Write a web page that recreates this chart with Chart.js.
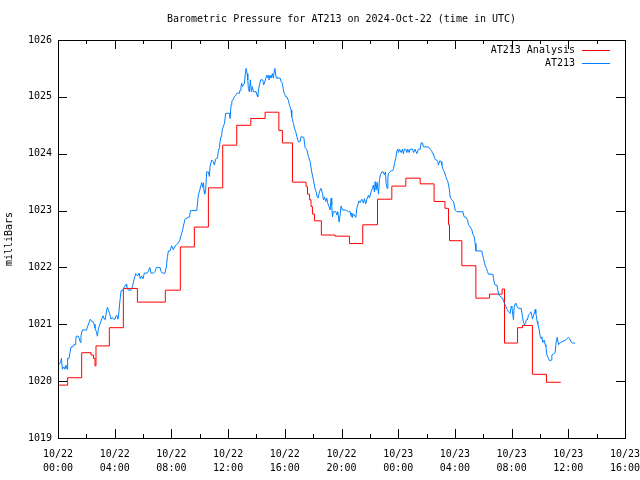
<!DOCTYPE html>
<html>
<head>
<meta charset="utf-8">
<script src="https://cdn.jsdelivr.net/npm/chart.js@4.4.1/dist/chart.umd.min.js"></script>
<style>
  html, body { margin: 0; padding: 0; background: #fff; }
  #wrap { width: 640px; height: 480px; }
</style>
</head>
<body>
<div id="wrap"><canvas id="c" width="640" height="480"></canvas></div>
<script>
// ---- Data (hours since 2024-10-22 00:00 UTC) ----
const chartTitle = 'Barometric Pressure for AT213 on 2024-Oct-22 (time in UTC)';
const yAxisLabel = 'milliBars';
const seriesNames = ['AT213 Analysis', 'AT213'];

const xTickHours = [0, 4, 8, 12, 16, 20, 24, 28, 32, 36, 40];
const xTickDates = ['10/22', '10/22', '10/22', '10/22', '10/22', '10/22', '10/23', '10/23', '10/23', '10/23', '10/23'];
const xTickTimes = ['00:00', '04:00', '08:00', '12:00', '16:00', '20:00', '00:00', '04:00', '08:00', '12:00', '16:00'];
const yTickValues = [1019, 1020, 1021, 1022, 1023, 1024, 1025, 1026];

// Analysis series: value changes at each listed hour (step line)
const analysisHours = [0, 0.68, 1.67, 2.33, 2.50, 2.61, 2.68, 3.62, 4.61, 5.60, 7.57, 8.63, 9.62, 10.61, 11.62, 12.61, 13.60,
  14.61, 15.58, 15.83, 16.54, 17.50, 17.60, 17.75, 17.85, 17.95, 18.09, 18.58, 19.55, 20.56, 21.50, 22.54,
  23.55, 24.54, 25.55, 26.53, 27.30, 27.55, 27.62, 28.49, 29.48, 30.44, 31.33, 31.50, 32.42, 32.77, 33.47, 34.46, 35.47];
const analysisPressure = [1019.93, 1020.06, 1020.50, 1020.46, 1020.40, 1020.27, 1020.62, 1020.94, 1021.63, 1021.39, 1021.60, 1022.36,
  1022.71, 1023.40, 1024.15, 1024.50, 1024.62, 1024.73, 1024.41, 1024.19, 1023.50, 1023.42, 1023.29, 1023.19, 1023.07,
  1022.94, 1022.82, 1022.57, 1022.55, 1022.42, 1022.75, 1023.20, 1023.43, 1023.57, 1023.47, 1023.16, 1023.04, 1022.75,
  1022.47, 1022.03, 1021.46, 1021.53, 1021.62, 1020.67, 1020.94, 1020.98, 1020.12, 1019.98, 1019.98];

// Observed station series
const stationHours = [0.07, 0.19, 0.24, 0.31, 0.42, 0.49, 0.56, 0.64, 0.68, 0.78, 0.85, 0.92, 1.04, 1.11, 1.22, 1.25, 1.29, 1.43,
  1.51, 1.58, 1.62, 1.72, 2.02, 2.07, 2.19, 2.28, 2.38, 2.47, 2.54, 2.61, 2.71, 2.78, 2.85, 2.94, 3.03, 3.08, 3.18, 3.27,
  3.33, 3.39, 3.48, 3.55, 3.65, 3.74, 3.84, 3.93, 4.02, 4.09, 4.16, 4.23, 4.30, 4.38, 4.45, 4.56, 4.68, 4.80, 4.85, 4.96,
  5.15, 5.25, 5.34, 5.48, 5.62, 5.72, 5.81, 5.90, 6.00, 6.09, 6.28, 6.37, 6.47, 6.56, 6.73, 6.85, 6.94, 7.20, 7.27, 7.36,
  7.55, 7.65, 7.72, 7.79, 7.90, 8.02, 8.14, 8.26, 8.37, 8.49, 8.59, 8.75, 8.96, 9.25, 9.30, 9.36, 9.79, 9.83, 9.90, 10.00,
  10.07, 10.14, 10.21, 10.26, 10.30, 10.35, 10.42, 10.49, 10.61, 10.68, 10.73, 10.84, 10.96, 11.03, 11.13, 11.24, 11.31,
  11.39, 11.43, 11.50, 11.55, 11.62, 11.74, 11.83, 12.09, 12.14, 12.21, 12.26, 12.37, 12.44, 12.54, 12.61, 12.73, 12.80,
  12.84, 12.91, 12.96, 13.01, 13.08, 13.15, 13.20, 13.27, 13.34, 13.39, 13.43, 13.50, 13.57, 13.64, 13.71, 13.79, 13.97,
  14.04, 14.09, 14.14, 14.21, 14.30, 14.44, 14.51, 14.61, 14.73, 14.80, 14.84, 14.89, 14.96, 15.03, 15.12, 15.19, 15.27,
  15.31, 15.38, 15.43, 15.67, 15.74, 15.83, 15.90, 15.97, 16.07, 16.14, 16.25, 16.32, 16.44, 16.49, 16.61, 16.68, 16.77,
  16.84, 16.96, 17.08, 17.15, 17.34, 17.43, 17.55, 17.67, 17.79, 17.90, 18.02, 18.14, 18.21, 18.28, 18.35, 18.42, 18.49,
  18.56, 18.66, 18.73, 18.80, 18.89, 18.96, 19.03, 19.12, 19.20, 19.27, 19.31, 19.36, 19.43, 19.60, 19.67, 19.74, 19.83,
  19.90, 19.97, 20.07, 20.26, 20.37, 20.49, 20.61, 20.68, 20.73, 20.77, 20.84, 21.01, 21.08, 21.15, 21.24, 21.31, 21.43,
  21.55, 21.62, 21.71, 21.78, 21.90, 21.97, 22.09, 22.18, 22.25, 22.32, 22.37, 22.44, 22.51, 22.61, 22.68, 22.75, 22.84,
  22.94, 23.03, 23.10, 23.15, 23.22, 23.27, 23.31, 23.41, 23.50, 23.60, 23.67, 23.74, 23.83, 23.90, 23.97, 24.02, 24.09,
  24.21, 24.30, 24.37, 24.44, 24.54, 24.61, 24.68, 24.77, 24.84, 25.01, 25.08, 25.19, 25.31, 25.43, 25.55, 25.62, 25.71,
  25.78, 26.14, 26.25, 26.37, 26.42, 26.49, 26.56, 26.65, 26.72, 26.79, 26.84, 26.94, 27.03, 27.08, 27.17, 27.26, 27.36,
  27.43, 27.50, 27.55, 27.62, 27.66, 27.78, 27.90, 28.02, 28.14, 28.56, 28.65, 28.79, 28.89, 28.96, 29.08, 29.20, 29.26,
  29.36, 29.43, 29.48, 29.90, 29.95, 30.02, 30.09, 30.13, 30.23, 30.30, 30.37, 30.68, 30.72, 30.79, 30.84, 30.96, 31.03,
  31.08, 31.19, 31.31, 31.38, 31.43, 31.50, 31.59, 31.69, 31.78, 31.90, 31.97, 32.02, 32.09, 32.13, 32.18, 32.25, 32.30,
  32.37, 32.49, 32.68, 32.77, 32.84, 32.91, 32.95, 33.00, 33.08, 33.12, 33.19, 33.29, 33.36, 33.43, 33.47, 33.55, 33.62,
  33.66, 33.71, 33.76, 33.80, 33.85, 33.95, 34.02, 34.09, 34.13, 34.20, 34.30, 34.37, 34.42, 34.49, 34.60, 34.67, 34.79,
  34.84, 34.96, 35.07, 35.14, 35.22, 35.31, 35.38, 35.54, 35.78, 35.92, 36.01, 36.11, 36.20, 36.30, 36.49];
const stationPressure = [1020.29, 1020.34, 1020.40, 1020.21, 1020.25, 1020.21, 1020.28, 1020.21, 1020.40, 1020.40, 1020.51,
  1020.60, 1020.60, 1020.64, 1020.64, 1020.72, 1020.79, 1020.79, 1020.74, 1020.68, 1020.80, 1020.90, 1020.90, 1020.95,
  1021.03, 1021.09, 1021.05, 1021.05, 1021.00, 1020.93, 1020.87, 1020.79, 1020.92, 1020.99, 1021.05, 1021.09, 1021.15,
  1021.09, 1021.08, 1021.18, 1021.30, 1021.26, 1021.18, 1021.09, 1021.12, 1021.09, 1021.09, 1021.15, 1021.15, 1021.09,
  1021.22, 1021.44, 1021.59, 1021.59, 1021.66, 1021.70, 1021.66, 1021.60, 1021.60, 1021.66, 1021.76, 1021.89, 1021.85,
  1021.90, 1021.80, 1021.85, 1021.80, 1021.90, 1021.90, 1021.93, 1022.00, 1021.90, 1021.90, 1021.93, 1022.00, 1022.00,
  1021.93, 1021.90, 1021.90, 1022.02, 1022.19, 1022.29, 1022.29, 1022.38, 1022.31, 1022.38, 1022.40, 1022.43, 1022.48,
  1022.62, 1022.85, 1022.89, 1022.94, 1023.00, 1023.00, 1023.10, 1023.27, 1023.36, 1023.43, 1023.49, 1023.41, 1023.49,
  1023.35, 1023.29, 1023.39, 1023.68, 1023.68, 1023.60, 1023.78, 1023.89, 1023.86, 1023.80, 1023.91, 1023.92, 1024.04,
  1024.11, 1024.21, 1024.30, 1024.36, 1024.45, 1024.53, 1024.71, 1024.71, 1024.62, 1024.86, 1024.92, 1024.96, 1025.00,
  1025.03, 1025.06, 1025.07, 1025.06, 1025.12, 1025.18, 1025.24, 1025.18, 1025.21, 1025.23, 1025.38, 1025.50, 1025.41,
  1025.30, 1025.15, 1025.09, 1025.30, 1025.09, 1025.18, 1025.09, 1025.09, 1025.03, 1025.00, 1025.12, 1025.21, 1025.30,
  1025.30, 1025.21, 1025.28, 1025.38, 1025.34, 1025.38, 1025.30, 1025.38, 1025.33, 1025.41, 1025.33, 1025.47, 1025.50,
  1025.35, 1025.33, 1025.33, 1025.27, 1025.24, 1025.12, 1025.06, 1025.00, 1025.00, 1024.94, 1024.86, 1024.77, 1024.65,
  1024.53, 1024.45, 1024.39, 1024.31, 1024.21, 1024.21, 1024.30, 1024.29, 1024.11, 1024.07, 1023.95, 1023.86, 1023.68,
  1023.54, 1023.38, 1023.33, 1023.25, 1023.22, 1023.30, 1023.36, 1023.39, 1023.30, 1023.19, 1023.24, 1023.16, 1023.22,
  1023.13, 1023.07, 1023.01, 1023.22, 1023.10, 1022.89, 1022.98, 1022.98, 1022.92, 1022.98, 1022.80, 1022.92, 1023.08,
  1023.01, 1023.01, 1023.00, 1022.98, 1022.98, 1022.90, 1022.96, 1022.88, 1022.94, 1022.88, 1023.04, 1023.10, 1023.17,
  1023.14, 1023.20, 1023.13, 1023.21, 1023.12, 1023.19, 1023.27, 1023.22, 1023.33, 1023.39, 1023.45, 1023.33, 1023.51,
  1023.36, 1023.50, 1023.29, 1023.55, 1023.63, 1023.68, 1023.68, 1023.63, 1023.68, 1023.48, 1023.39, 1023.57, 1023.65,
  1023.68, 1023.70, 1023.70, 1023.74, 1023.83, 1023.92, 1024.04, 1024.08, 1024.02, 1024.08, 1024.02, 1024.08, 1024.00,
  1024.08, 1024.08, 1024.02, 1024.08, 1024.02, 1024.08, 1024.08, 1024.02, 1024.08, 1024.00, 1024.08, 1024.08, 1024.19,
  1024.19, 1024.12, 1024.12, 1024.08, 1024.05, 1024.00, 1024.00, 1023.92, 1023.89, 1023.89, 1023.86, 1023.80, 1023.88,
  1023.86, 1023.80, 1023.72, 1023.68, 1023.60, 1023.55, 1023.51, 1023.45, 1023.36, 1023.24, 1023.19, 1023.16, 1023.01,
  1022.98, 1022.98, 1022.89, 1022.88, 1022.83, 1022.75, 1022.71, 1022.66, 1022.59, 1022.54, 1022.42, 1022.29, 1022.29,
  1022.22, 1022.16, 1022.07, 1022.04, 1021.98, 1021.93, 1021.88, 1021.88, 1021.81, 1021.72, 1021.69, 1021.69, 1021.60,
  1021.52, 1021.50, 1021.46, 1021.46, 1021.40, 1021.37, 1021.31, 1021.26, 1021.22, 1021.19, 1021.32, 1021.30, 1021.16,
  1021.08, 1021.30, 1021.36, 1021.37, 1021.32, 1021.28, 1021.28, 1021.13, 1021.03, 1020.99, 1021.02, 1021.05, 1021.09,
  1021.08, 1021.16, 1021.19, 1021.22, 1021.15, 1021.09, 1021.16, 1021.22, 1021.26, 1021.19, 1021.13, 1021.05, 1021.01,
  1020.90, 1020.78, 1020.75, 1020.78, 1020.68, 1020.72, 1020.64, 1020.61, 1020.46, 1020.40, 1020.36, 1020.37, 1020.46,
  1020.48, 1020.50, 1020.69, 1020.77, 1020.64, 1020.67, 1020.69, 1020.72, 1020.75, 1020.77, 1020.74, 1020.69, 1020.67,
  1020.67];

const seriesColors = ['#ff0000', '#0080ff'];
const FONT = "'DejaVu Sans Mono', 'Liberation Mono', monospace";

const toPoints = (xs, ys) => xs.map((x, i) => ({ x: x, y: ys[i] }));

// gnuplot-like frame, inward ticks, title, y label, key
const gnuplotFrame = {
  id: 'gnuplotFrame',
  afterDraw(chart) {
    const ctx = chart.ctx;
    const a = chart.chartArea;
    const xs = chart.scales.x, ys = chart.scales.y;
    ctx.save();
    ctx.strokeStyle = '#000';
    ctx.lineWidth = 1;
    ctx.beginPath();
    // y ticks (left and right, inward)
    yTickValues.forEach(v => {
      const y = Math.round(ys.getPixelForValue(v)) + 0.5;
      ctx.moveTo(a.left, y); ctx.lineTo(a.left + 9, y);
      ctx.moveTo(a.right, y); ctx.lineTo(a.right - 9, y);
    });
    // x ticks every 2 hours, major every 4
    for (let h = 0; h <= 40; h += 2) {
      const x = Math.round(xs.getPixelForValue(h)) + 0.5;
      const len = (h % 4 === 0) ? 9 : 4;
      ctx.moveTo(x, a.bottom); ctx.lineTo(x, a.bottom - len);
      ctx.moveTo(x, a.top); ctx.lineTo(x, a.top + len);
    }
    ctx.stroke();
    // border
    ctx.strokeRect(Math.round(a.left) + 0.5, Math.round(a.top) + 0.5,
      Math.round(a.right - a.left), Math.round(a.bottom - a.top));

    ctx.fillStyle = '#000';
    ctx.font = '10px ' + FONT;
    // title
    ctx.textAlign = 'center';
    ctx.textBaseline = 'middle';
    ctx.fillText(chartTitle, (a.left + a.right) / 2, 19);
    // y axis label
    ctx.save();
    ctx.translate(9, (a.top + a.bottom) / 2);
    ctx.rotate(-Math.PI / 2);
    ctx.fillText(yAxisLabel, 0, 0);
    ctx.restore();
    // key
    ctx.textAlign = 'right';
    const keyRows = [50, 63];
    seriesNames.forEach((name, i) => {
      const y = keyRows[i];
      ctx.fillStyle = '#000';
      ctx.fillText(name, 575, y);
      ctx.strokeStyle = seriesColors[i];
      ctx.beginPath();
      ctx.moveTo(582, y + 0.5); ctx.lineTo(610, y + 0.5);
      ctx.stroke();
    });
    ctx.restore();
  }
};

new Chart(document.getElementById('c'), {
  type: 'line',
  data: {
    datasets: [
      {
        label: seriesNames[0],
        data: toPoints(analysisHours, analysisPressure),
        borderColor: seriesColors[0],
        borderWidth: 1,
        pointRadius: 0,
        stepped: 'before',
        fill: false,
        order: 2
      },
      {
        label: seriesNames[1],
        data: toPoints(stationHours, stationPressure),
        borderColor: seriesColors[1],
        borderWidth: 1,
        pointRadius: 0,
        tension: 0,
        fill: false,
        order: 1
      }
    ]
  },
  options: {
    responsive: false,
    animation: false,
    devicePixelRatio: 1,
    layout: { padding: { top: 40, right: 15, left: 0, bottom: 0 } },
    plugins: {
      legend: { display: false },
      title: { display: false },
      tooltip: { enabled: false }
    },
    scales: {
      x: {
        type: 'linear',
        min: 0, max: 40,
        afterFit: (s) => { s.height = 42; s.paddingLeft = 0; s.paddingRight = 0; },
        afterBuildTicks: (s) => { s.ticks = xTickHours.map(v => ({ value: v })); },
        grid: { display: false, drawTicks: false },
        border: { display: false },
        ticks: {
          autoSkip: false, maxRotation: 0, minRotation: 0,
          color: '#000', padding: 9,
          font: { family: FONT, size: 10, lineHeight: 1.4 },
          callback: (v) => {
            const i = xTickHours.indexOf(v);
            return i >= 0 ? [xTickDates[i], xTickTimes[i]] : '';
          }
        }
      },
      y: {
        type: 'linear',
        min: 1019, max: 1026,
        afterFit: (s) => { s.width = 58; s.paddingTop = 0; s.paddingBottom = 0; },
        afterBuildTicks: (s) => { s.ticks = yTickValues.map(v => ({ value: v })); },
        grid: { display: false, drawTicks: false },
        border: { display: false },
        ticks: {
          color: '#000', padding: 6,
          font: { family: FONT, size: 10 },
          callback: (v) => String(v)
        }
      }
    }
  },
  plugins: [gnuplotFrame]
});
</script>
</body>
</html>
